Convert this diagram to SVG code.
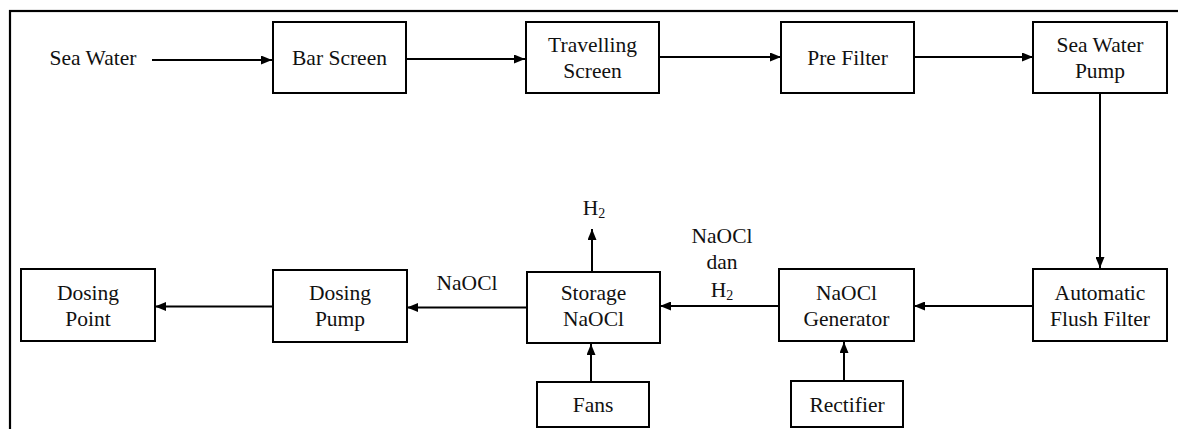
<svg xmlns="http://www.w3.org/2000/svg" width="1178" height="429" viewBox="0 0 1178 429">
<style>
.box{fill:#fff;stroke:#000;stroke-width:2}
.t{font-family:"Liberation Serif","Times New Roman",serif;font-size:21.5px;fill:#111;text-anchor:middle}
.c{stroke:#000;stroke-width:2;fill:none;marker-end:url(#ah)}
.sub{font-size:14px}
</style>
<defs>
<marker id="ah" markerWidth="11" markerHeight="9" refX="11" refY="4.5" orient="auto" markerUnits="userSpaceOnUse">
<path d="M0,0 L11,4.5 L0,9 z" fill="#000"/>
</marker>
</defs>
<rect width="1178" height="429" fill="#fff"/>
<rect x="10" y="11" width="1200" height="440" fill="none" stroke="#000" stroke-width="2.2"/>
<g id="connectors">
<path class="c" d="M152,60 L272,60"/>
<path class="c" d="M406,59 L525,59"/>
<path class="c" d="M659,57 L781,57"/>
<path class="c" d="M914,57 L1033,57"/>
<path class="c" d="M1100,93 L1100,268"/>
<path class="c" d="M1033,306 L914,306"/>
<path class="c" d="M779,306 L660,306"/>
<path class="c" d="M527,307.5 L407,307.5"/>
<path class="c" d="M273,306.5 L155,306.5"/>
<path class="c" d="M592,271 L592,229"/>
<path class="c" d="M591,382 L591,344"/>
<path class="c" d="M844,381 L844,342"/>
</g>
<g id="seawater"><text class="t" x="93" y="65">Sea Water</text></g>
<g id="barscreen"><rect class="box" x="273" y="22" width="133" height="71"/><text class="t" x="339.5" y="65">Bar Screen</text></g>
<g id="travelling"><rect class="box" x="526" y="22" width="133" height="71"/><text class="t" x="592.5" y="51.5">Travelling</text><text class="t" x="592.5" y="77.5">Screen</text></g>
<g id="prefilter"><rect class="box" x="781" y="22" width="133" height="71"/><text class="t" x="847.5" y="65">Pre Filter</text></g>
<g id="swpump"><rect class="box" x="1033" y="22" width="134" height="71"/><text class="t" x="1100" y="51.5">Sea Water</text><text class="t" x="1100" y="77.5">Pump</text></g>
<g id="aff"><rect class="box" x="1033" y="269" width="134" height="72"/><text class="t" x="1100" y="299.5">Automatic</text><text class="t" x="1100" y="325.5">Flush Filter</text></g>
<g id="generator"><rect class="box" x="779" y="269" width="135" height="72"/><text class="t" x="846.5" y="299.5">NaOCl</text><text class="t" x="846.5" y="325.5">Generator</text></g>
<g id="rectifier"><rect class="box" x="791" y="381" width="112" height="46"/><text class="t" x="847" y="411.5">Rectifier</text></g>
<g id="storage"><rect class="box" x="527" y="272" width="133" height="71"/><text class="t" x="593.5" y="299.5">Storage</text><text class="t" x="593.5" y="325.5">NaOCl</text></g>
<g id="fans"><rect class="box" x="537" y="382" width="112" height="45"/><text class="t" x="593" y="412">Fans</text></g>
<g id="dosingpump"><rect class="box" x="273" y="270" width="134" height="72"/><text class="t" x="340" y="299.5">Dosing</text><text class="t" x="340" y="325.5">Pump</text></g>
<g id="dosingpoint"><rect class="box" x="21" y="269" width="134" height="72"/><text class="t" x="88" y="299.5">Dosing</text><text class="t" x="88" y="325.5">Point</text></g>
<g id="labels">
<text class="t" x="594" y="215">H<tspan class="sub" dy="3">2</tspan></text>
<text class="t" x="722" y="243">NaOCl</text>
<text class="t" x="722" y="269">dan</text>
<text class="t" x="722" y="297">H<tspan class="sub" dy="3">2</tspan></text>
<text class="t" x="467" y="290">NaOCl</text>
</g>
</svg>
